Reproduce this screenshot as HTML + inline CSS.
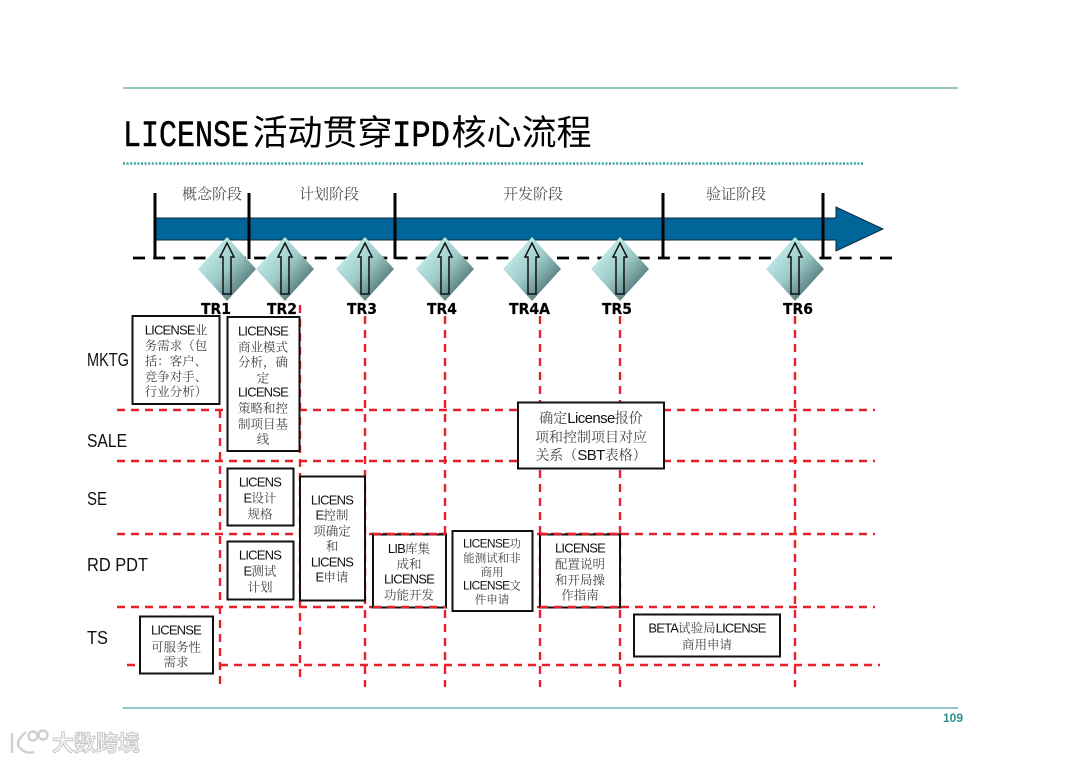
<!DOCTYPE html>
<html lang="zh">
<head>
<meta charset="utf-8">
<title>LICENSE活动贯穿IPD核心流程</title>
<style>
html,body{margin:0;padding:0;background:#fff;width:1080px;height:763px;overflow:hidden}
svg{display:block}
.t{font-family:"Liberation Sans","Noto Serif CJK SC",serif;font-size:12.5px;fill:#444;text-anchor:middle}
.t tspan{fill:#111;font-family:"Liberation Sans",sans-serif;font-size:13px;letter-spacing:-.8px}
.s{font-size:11.5px}
.s tspan{font-size:12px;letter-spacing:-.7px}
.b{font-size:14px}
.b tspan{font-size:15px;letter-spacing:-.6px}
.ph{font-family:"Noto Serif CJK SC",serif;font-size:15px;fill:#555}
.side{font-family:"Liberation Sans",sans-serif;font-size:18.5px;fill:#111}
.tr{font-family:"DejaVu Sans",sans-serif;font-weight:bold;font-size:15.5px;fill:#000;stroke:#000;stroke-width:.2px}
.title{font-size:35px;fill:#000;font-family:"Noto Sans CJK SC",sans-serif}
.mono{font-family:"Liberation Mono",monospace;font-size:37px;stroke:#000;stroke-width:.5px}
.box{fill:#fff;stroke:#111;stroke-width:2}
.r{stroke:#e8202a;stroke-width:2.4;stroke-dasharray:8 6;fill:none}
</style>
</head>
<body>
<svg width="1080" height="763" viewBox="0 0 1080 763" xmlns="http://www.w3.org/2000/svg">
<defs>
<linearGradient id="dg" x1="0" y1="0" x2="1" y2="1">
<stop offset="0.15" stop-color="#c8f0f0"/>
<stop offset="0.5" stop-color="#9cc8c8"/>
<stop offset="0.9" stop-color="#3d6262"/>
</linearGradient>
<g id="tr">
<polygon points="0,-32 29,0 0,32 -29,0" fill="url(#dg)"/>
<polygon points="0,-26 7,-12 4,-12 4,25 -4,25 -4,-12 -7,-12" fill="none" stroke="#111" stroke-width="1.5"/>
</g>
</defs>

<line x1="123" y1="88" x2="958" y2="88" stroke="#4fa8a4" stroke-width="1.3"/>
<line x1="123" y1="708" x2="958" y2="708" stroke="#4fa8a4" stroke-width="1.3"/>
<line x1="123" y1="163.5" x2="864.500" y2="163.5" stroke="#3aa3a0" stroke-width="2.4" stroke-dasharray="2 1.6"/>

<text class="title mono" x="123" y="146" textLength="126" lengthAdjust="spacingAndGlyphs">LICENSE</text>
<text class="title" x="252.500" y="145">活动贯穿</text>
<text class="title mono" x="392" y="146" textLength="58" lengthAdjust="spacingAndGlyphs">IPD</text>
<text class="title" x="451.500" y="145">核心流程</text>

<text class="ph" x="182" y="199">概念阶段</text>
<text class="ph" x="299" y="199">计划阶段</text>
<text class="ph" x="503" y="199">开发阶段</text>
<text class="ph" x="706" y="199">验证阶段</text>

<!-- red swimlanes -->
<path class="r" d="M117 410H875M117 461H875M117 534H875M117 607H875M127 665H136M220 665H880"/>
<path class="r" d="M220 410V687M300 305V681M365 316V687M445 316V687M540 316V687M620 316V687M795 316V687"/>

<!-- main arrow -->
<polygon points="155,218 836,218 836,207 883,229 836,251 836,240 155,240" fill="#006699" stroke="#0a2a3a" stroke-width="1"/>
<line x1="133" y1="258" x2="893" y2="258" stroke="#000" stroke-width="2.8" stroke-dasharray="12 8.19"/>
<g stroke="#000" stroke-width="3">
<line x1="155" y1="193" x2="155" y2="259"/>
<line x1="249" y1="193" x2="249" y2="259"/>
<line x1="395" y1="193" x2="395" y2="259"/>
<line x1="663" y1="193" x2="663" y2="259"/>
<line x1="823" y1="193" x2="823" y2="259"/>
</g>

<use href="#tr" x="227" y="269"/>
<use href="#tr" x="285" y="269"/>
<use href="#tr" x="365" y="269"/>
<use href="#tr" x="445" y="269"/>
<use href="#tr" x="532" y="269"/>
<use href="#tr" x="620" y="269"/>
<use href="#tr" x="795" y="269"/>

<text class="tr" x="201" y="314" textLength="30" lengthAdjust="spacingAndGlyphs">TR1</text>
<text class="tr" x="267" y="314" textLength="30" lengthAdjust="spacingAndGlyphs">TR2</text>
<text class="tr" x="347" y="314" textLength="30" lengthAdjust="spacingAndGlyphs">TR3</text>
<text class="tr" x="427" y="314" textLength="30" lengthAdjust="spacingAndGlyphs">TR4</text>
<text class="tr" x="509" y="314" textLength="41" lengthAdjust="spacingAndGlyphs">TR4A</text>
<text class="tr" x="602" y="314" textLength="30" lengthAdjust="spacingAndGlyphs">TR5</text>
<text class="tr" x="783" y="314" textLength="30" lengthAdjust="spacingAndGlyphs">TR6</text>

<text class="side" x="87" y="366" textLength="42" lengthAdjust="spacingAndGlyphs">MKTG</text>
<text class="side" x="87" y="447" textLength="40" lengthAdjust="spacingAndGlyphs">SALE</text>
<text class="side" x="87" y="505" textLength="20" lengthAdjust="spacingAndGlyphs">SE</text>
<text class="side" x="87" y="571" textLength="61" lengthAdjust="spacingAndGlyphs">RD PDT</text>
<text class="side" x="87" y="644" textLength="21" lengthAdjust="spacingAndGlyphs">TS</text>

<!-- boxes -->
<rect class="box" x="132.500" y="316" width="87" height="88"/>
<rect class="box" x="227.500" y="317" width="72" height="134"/>
<rect class="box" x="227.500" y="468.500" width="66" height="57"/>
<rect class="box" x="300" y="476.500" width="65" height="124"/>
<rect class="box" x="227.500" y="541.500" width="66" height="58"/>
<rect class="box" x="373" y="534.500" width="73" height="73"/>
<rect class="box" x="452.500" y="531" width="80" height="80"/>
<rect class="box" x="540" y="534.500" width="80" height="73"/>
<rect class="box" x="140" y="616.500" width="73" height="57"/>
<rect class="box" x="634" y="614.500" width="146" height="42"/>
<rect class="box" x="518" y="402.500" width="146" height="66"/>

<text class="t" x="176" y="334.500"><tspan>LICENSE</tspan>业</text>
<text class="t" x="176" y="350">务需求（包</text>
<text class="t" x="176" y="365.500">括：客户、</text>
<text class="t" x="176" y="381">竞争对手、</text>
<text class="t" x="176" y="396">行业分析）</text>

<text class="t" x="263" y="335.500"><tspan>LICENSE</tspan></text>
<text class="t" x="263" y="351.500">商业模式</text>
<text class="t" x="263" y="366.500">分析，确</text>
<text class="t" x="263" y="382.500">定</text>
<text class="t" x="263" y="396.500"><tspan>LICENSE</tspan></text>
<text class="t" x="263" y="412.500">策略和控</text>
<text class="t" x="263" y="428.500">制项目基</text>
<text class="t" x="263" y="443.500">线</text>

<text class="t" x="260" y="486.500"><tspan>LICENS</tspan></text>
<text class="t" x="260" y="502.500"><tspan>E</tspan>设计</text>
<text class="t" x="260" y="518.500">规格</text>

<text class="t" x="332" y="504.500"><tspan>LICENS</tspan></text>
<text class="t" x="332" y="519.500"><tspan>E</tspan>控制</text>
<text class="t" x="332" y="535.500">项确定</text>
<text class="t" x="332" y="550.500">和</text>
<text class="t" x="332" y="566.500"><tspan>LICENS</tspan></text>
<text class="t" x="332" y="581.500"><tspan>E</tspan>申请</text>

<text class="t" x="260" y="559.500"><tspan>LICENS</tspan></text>
<text class="t" x="260" y="575.500"><tspan>E</tspan>测试</text>
<text class="t" x="260" y="591.500">计划</text>

<text class="t" x="409" y="553"><tspan>LIB</tspan>库集</text>
<text class="t" x="409" y="568.500">成和</text>
<text class="t" x="409" y="583.500"><tspan>LICENSE</tspan></text>
<text class="t" x="409" y="599.500">功能开发</text>

<text class="t s" x="492" y="547.500"><tspan>LICENSE</tspan>功</text>
<text class="t s" x="492" y="562">能测试和非</text>
<text class="t s" x="492" y="576">商用</text>
<text class="t s" x="492" y="589.500"><tspan>LICENSE</tspan>文</text>
<text class="t s" x="492" y="603.500">件申请</text>

<text class="t" x="580" y="552.500"><tspan>LICENSE</tspan></text>
<text class="t" x="580" y="568.500">配置说明</text>
<text class="t" x="580" y="584.500">和开局操</text>
<text class="t" x="580" y="599.500">作指南</text>

<text class="t" x="176" y="634.500"><tspan>LICENSE</tspan></text>
<text class="t" x="176" y="651.500">可服务性</text>
<text class="t" x="176" y="666.500">需求</text>

<text class="t" x="707" y="632.500"><tspan>BETA</tspan>试验局<tspan>LICENSE</tspan></text>
<text class="t" x="707" y="649">商用申请</text>

<text class="t b" x="591" y="423">确定<tspan>License</tspan>报价</text>
<text class="t b" x="591" y="442">项和控制项目对应</text>
<text class="t b" x="591" y="460">关系（<tspan>SBT</tspan>表格）</text>

<!-- overlay red on coincident box edges -->
<path class="r" d="M373 534H446M373 607H446M540 534H620M540 607H620"/>

<text x="943" y="722" font-family="Liberation Sans,sans-serif" font-weight="bold" font-size="12px" fill="#2d8f8c">109</text>

<!-- watermark -->
<g fill="none" stroke="#cfcfcf" stroke-width="2.4">
<path d="M12 733V753M26 732Q13 743 21 749Q26 754 34 752"/>
<circle cx="33" cy="736" r="4.500"/>
<circle cx="43" cy="735" r="4.500"/>
</g>
<text x="52" y="751" font-family="Noto Sans CJK SC,sans-serif" font-size="22px" font-weight="bold" fill="#f6f6f6" stroke="#c8c8c8" stroke-width="1">大数跨境</text>
</svg>
</body>
</html>
